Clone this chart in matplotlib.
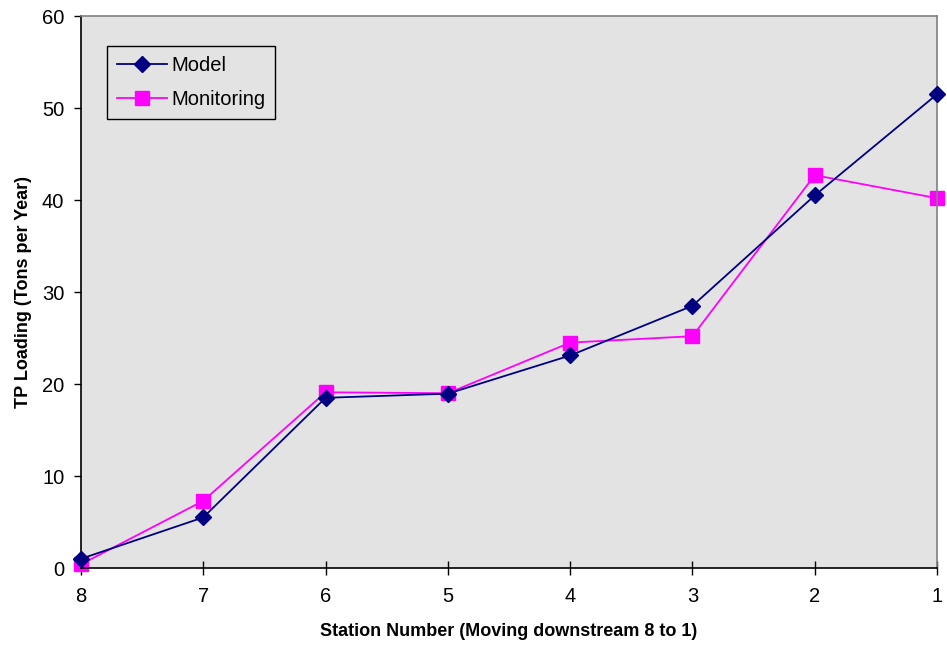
import matplotlib
matplotlib.use("Agg")
import matplotlib.pyplot as plt

plt.rcParams['font.family'] = ['Liberation Sans', 'DejaVu Sans']

stations = ['8', '7', '6', '5', '4', '3', '2', '1']
model = [1.0, 5.5, 18.5, 18.95, 23.1, 28.5, 40.5, 51.5]
monitoring = [0.4, 7.3, 19.1, 19.0, 24.5, 25.2, 42.7, 40.2]

fig = plt.figure(figsize=(9.47, 6.49), dpi=100)
ax = fig.add_axes([0.0855, 0.1248, 0.904, 0.8505])
ax.set_facecolor('#e3e3e3')

x = list(range(len(stations)))
ax.plot(x, model, color='#000080', marker='D', ms=8, lw=1.3, label='Model', zorder=3, clip_on=False)
ax.plot(x, monitoring, color='#ff00ff', marker='s', ms=10, lw=1.3, label='Monitoring', zorder=2, clip_on=False)

ax.set_xlim(0, len(stations) - 1)
ax.set_ylim(0, 60)
ax.set_xticks(x)
ax.set_xticklabels(stations)
ax.set_yticks(range(0, 61, 10))
ax.tick_params(axis='x', direction='inout', length=10, width=1, labelsize=14.5, pad=9)
ax.tick_params(axis='y', direction='out', length=5, width=1, labelsize=14.5, pad=7)

for s in ['left', 'bottom']:
    ax.spines[s].set_color('black')
    ax.spines[s].set_linewidth(1.2)
for s in ['top', 'right']:
    ax.spines[s].set_color('#808080')
    ax.spines[s].set_linewidth(1.2)

ax.set_xlabel('Station Number (Moving downstream 8 to 1)', fontsize=13, fontweight='bold', labelpad=12)
ax.set_ylabel('TP Loading (Tons per Year)', fontsize=13, fontweight='bold', labelpad=7)

leg = ax.legend(loc='upper left', bbox_to_anchor=(0.03, 0.945), fontsize=14.5, frameon=True,
                fancybox=False, edgecolor='black', facecolor='#e3e3e3', framealpha=1,
                handlelength=2.5, borderpad=0.5, labelspacing=0.7, handletextpad=0.2,
                borderaxespad=0)
leg.get_frame().set_linewidth(1)

fig.savefig('out.png', dpi=100)
